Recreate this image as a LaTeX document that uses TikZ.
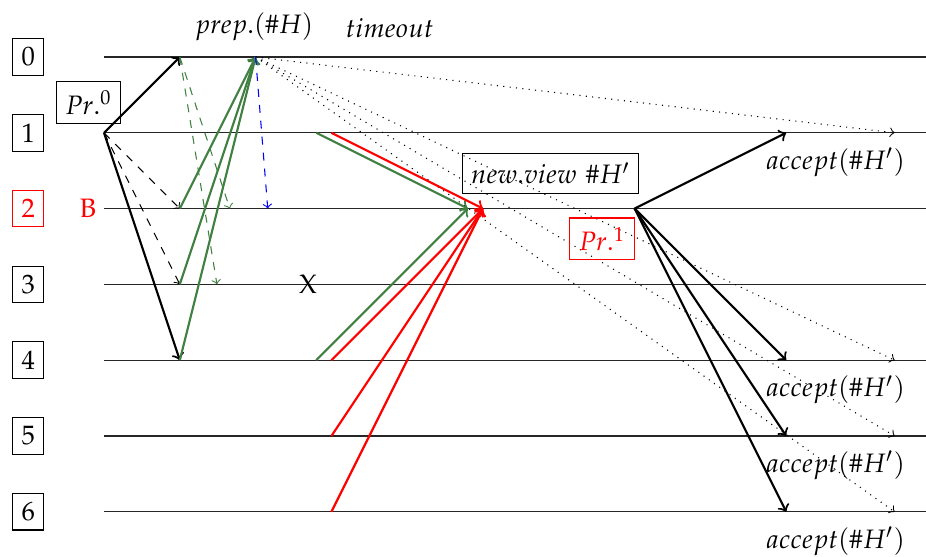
\documentclass[tikz,border=0pt]{standalone}
\usepackage{mathpazo}
\definecolor{mygreen}{RGB}{64,128,64}
\tikzset{
  lane/.style={draw=black!85, line width=0.45pt},
  idbox/.style={draw, inner sep=3.33pt},
  msg/.style={->, thick, black},
  gmsg/.style={->, thick, mygreen},
  rmsg/.style={->, thick, red},
  dmsg/.style={->, dashed, black},
  gdmsg/.style={->, dashed, mygreen},
  bdmsg/.style={->, dashed, blue},
  dotmsg/.style={->, dotted, black},
  lbl/.style={inner sep=0pt}
}
\begin{document}
\begin{tikzpicture}
\useasboundingbox (-1.372,0.752) rectangle (10.844,-6.594);
% lanes
\foreach \i in {0,...,6} {
  \coordinate (L\i) at (0,-\i);
  \coordinate (R\i) at (10.85,-\i);
  \draw[lane] (L\i) -- (R\i);
}
% process ids
\node[idbox] (n0) at (-1,0) {$0$};
\node[idbox] (n1) at (-1,-1) {$1$};
\node[idbox, draw=red, text=red] (n2) at (-1,-2) {$2$};
\node[idbox] (n3) at (-1,-3) {$3$};
\node[idbox] (n4) at (-1,-4) {$4$};
\node[idbox] (n5) at (-1,-5) {$5$};
\node[idbox] (n6) at (-1,-6) {$6$};
\node[lbl, text=red] (byz) at (-0.21,-2) {$\mathrm{B}$};
% coordinates
\coordinate (a0) at (1,0);
\coordinate (b2) at (1,-2);
\coordinate (b3) at (1,-3);
\coordinate (b4) at (1,-4);
\coordinate (p) at (2,0);
\coordinate (gd2) at (1.66,-2);
\coordinate (gd3) at (1.49,-3);
\coordinate (bd) at (2.16,-2);
\coordinate (g1) at (2.8,-1);
\coordinate (g4) at (2.8,-4);
\coordinate (gt) at (4.8,-2);
\coordinate (r1) at (3,-1);
\coordinate (r4) at (3,-4);
\coordinate (r5) at (3,-5);
\coordinate (r6) at (3,-6);
\coordinate (rt) at (5,-2);
\coordinate (c) at (7,-2);
\coordinate (k1) at (9,-1);
\coordinate (k4) at (9,-4);
\coordinate (k5) at (9,-5);
\coordinate (k6) at (9,-6);
\coordinate (d1) at (10.43,-1);
\coordinate (d4) at (10.43,-4);
\coordinate (d5) at (10.43,-5);
\coordinate (d6) at (10.43,-6);
% dotted
\foreach \t in {d1,d4,d5,d6} \draw[dotmsg] (p) -- (\t);
% labels
\node[idbox] (pr0) at (-0.204,-0.6) {$Pr.^0$};
\node[lbl] (prep) at (1.98,0.40) {$prep.(\#H)$};
\node[lbl] (tmo) at (3.77,0.38) {$timeout$};
\node[lbl] (xx) at (2.69,-3) {$\mathrm{X}$};
\node[idbox] (nv) at (5.89,-1.536) {$new.view\ \#H'$};
\node[idbox, draw=red, text=red] (pr1) at (6.57,-2.4) {$Pr.^1$};
\node[lbl] (acc1) at (9.65,-1.39) {$accept(\#H')$};
\node[lbl] (acc4) at (9.65,-4.39) {$accept(\#H')$};
\node[lbl] (acc5) at (9.65,-5.39) {$accept(\#H')$};
\node[lbl] (acc6) at (9.65,-6.39) {$accept(\#H')$};
% pre-prepare from 1
\draw[msg] (L1) -- (a0);
\draw[msg] (L1) -- (b4);
\draw[dmsg] (L1) -- (b2);
\draw[dmsg] (L1) -- (b3);
% prepare
\draw[gdmsg] (a0) -- (gd2);
\draw[gdmsg] (a0) -- (gd3);
\draw[gmsg] (b2) -- (p);
\draw[gmsg] (b3) -- (p);
\draw[gmsg] (b4) -- (p);
\draw[bdmsg] (p) -- (bd);
% view change
\draw[gmsg] (g1) -- (gt);
\draw[gmsg] (g4) -- (gt);
\foreach \s in {r1,r4,r5,r6} \draw[rmsg] (\s) -- (rt);
% new primary
\foreach \t in {k1,k4,k5,k6} \draw[msg] (c) -- (\t);
\end{tikzpicture}
\end{document}
